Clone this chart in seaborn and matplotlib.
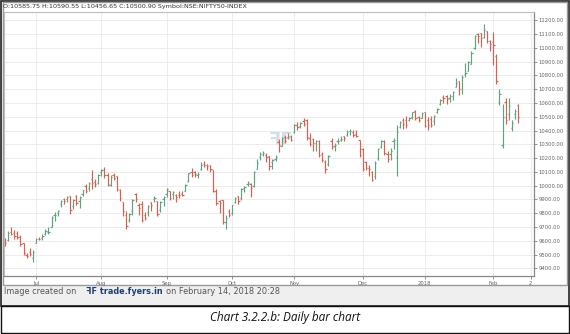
import matplotlib
matplotlib.use("Agg")
import matplotlib.pyplot as plt
import seaborn as sns
import pandas as pd
from matplotlib.patches import Rectangle

# ---------------- data (NIFTY 50 daily OHLC) ----------------
dates = [
    # Jun 2017
    "2017-06-16", "2017-06-19", "2017-06-20", "2017-06-21", "2017-06-22", "2017-06-23",
    "2017-06-27", "2017-06-28", "2017-06-29", "2017-06-30",
    # Jul
    "2017-07-03", "2017-07-04", "2017-07-05", "2017-07-06", "2017-07-07", "2017-07-10",
    "2017-07-11", "2017-07-12", "2017-07-13", "2017-07-14", "2017-07-17", "2017-07-18",
    "2017-07-19", "2017-07-20", "2017-07-21", "2017-07-24", "2017-07-25", "2017-07-26",
    "2017-07-27", "2017-07-28", "2017-07-31",
    # Aug
    "2017-08-01", "2017-08-02", "2017-08-03", "2017-08-04", "2017-08-07", "2017-08-08",
    "2017-08-09", "2017-08-10", "2017-08-11", "2017-08-14", "2017-08-16", "2017-08-17",
    "2017-08-18", "2017-08-21", "2017-08-22", "2017-08-23", "2017-08-24", "2017-08-28",
    "2017-08-29", "2017-08-30", "2017-08-31",
    # Sep
    "2017-09-01", "2017-09-04", "2017-09-05", "2017-09-06", "2017-09-07", "2017-09-08",
    "2017-09-11", "2017-09-12", "2017-09-13", "2017-09-14", "2017-09-15", "2017-09-18",
    "2017-09-19", "2017-09-20", "2017-09-21", "2017-09-22", "2017-09-25", "2017-09-26",
    "2017-09-27", "2017-09-28", "2017-09-29",
    # Oct
    "2017-10-03", "2017-10-04", "2017-10-05", "2017-10-06", "2017-10-09", "2017-10-10",
    "2017-10-11", "2017-10-12", "2017-10-13", "2017-10-16", "2017-10-17", "2017-10-18",
    "2017-10-19", "2017-10-23", "2017-10-24", "2017-10-25", "2017-10-26", "2017-10-27",
    "2017-10-30", "2017-10-31",
    # Nov
    "2017-11-01", "2017-11-02", "2017-11-03", "2017-11-06", "2017-11-07", "2017-11-08",
    "2017-11-09", "2017-11-10", "2017-11-13", "2017-11-14", "2017-11-15", "2017-11-16",
    "2017-11-17", "2017-11-20", "2017-11-21", "2017-11-22", "2017-11-23", "2017-11-24",
    "2017-11-27", "2017-11-28", "2017-11-29", "2017-11-30",
    # Dec
    "2017-12-01", "2017-12-04", "2017-12-05", "2017-12-06", "2017-12-07", "2017-12-08",
    "2017-12-11", "2017-12-12", "2017-12-13", "2017-12-14", "2017-12-15", "2017-12-18",
    "2017-12-19", "2017-12-20", "2017-12-21", "2017-12-22", "2017-12-26", "2017-12-27",
    "2017-12-28", "2017-12-29",
    # Jan 2018
    "2018-01-01", "2018-01-02", "2018-01-03", "2018-01-04", "2018-01-05", "2018-01-08",
    "2018-01-09", "2018-01-10", "2018-01-11", "2018-01-12", "2018-01-15", "2018-01-16",
    "2018-01-17", "2018-01-18", "2018-01-19", "2018-01-22", "2018-01-23", "2018-01-24",
    "2018-01-25", "2018-01-29", "2018-01-30", "2018-01-31",
    # Feb
    "2018-02-01", "2018-02-02", "2018-02-05", "2018-02-06", "2018-02-07", "2018-02-08",
    "2018-02-09", "2018-02-12", "2018-02-14",
]

opens = [
    9617, 9603, 9665, 9660, 9659, 9630, 9587, 9495, 9517, 9478,
    9587, 9617, 9619, 9648, 9662, 9698, 9784, 9799, 9865, 9901, 9900, 9924,
    9856, 9922, 9890, 9937, 10001, 9980, 10049, 10030, 10018,
    10102, 10115, 10081, 10002, 10075, 10068, 9966, 9885, 9791, 9754, 9819, 9937,
    9860, 9864, 9791, 9808, 9881, 9907, 9886, 9822, 9905,
    9937, 9958, 9941, 9933, 9935, 9941, 9964, 10035, 10099, 10101, 10078, 10124,
    10161, 10152, 10152, 10112, 9960, 9888, 9893, 9736, 9814,
    9800, 9883, 9924, 9911, 9983, 10010, 10015, 9995, 10123, 10207, 10232, 10225,
    10216, 10171, 10197, 10320, 10291, 10353, 10353, 10364,
    10390, 10440, 10431, 10469, 10477, 10344, 10339, 10308, 10322, 10231, 10173, 10155,
    10325, 10288, 10325, 10334, 10358, 10366, 10398, 10393, 10376, 10332,
    10263, 10175, 10128, 10098, 10068, 10198, 10284, 10324, 10230, 10233, 10323, 10205,
    10428, 10480, 10475, 10476, 10495, 10545, 10498, 10492,
    10531, 10477, 10482, 10469, 10534, 10592, 10645, 10652, 10637, 10650, 10718, 10761,
    10703, 10807, 10830, 10884, 11000, 11097, 11107, 11079, 11121, 11049,
    11044, 10938, 10604, 10296, 10607, 10518, 10416, 10519, 10586,
]

highs = [
    9619, 9668, 9698, 9679, 9675, 9640, 9587, 9515, 9548, 9533,
    9624, 9627, 9650, 9684, 9702, 9782, 9809, 9824, 9897, 9913, 9928, 9925,
    9904, 9932, 9924, 9970, 10011, 10026, 10114, 10052, 10086,
    10118, 10138, 10095, 10080, 10090, 10071, 9978, 9885, 9813, 9801, 9905, 9947,
    9875, 9891, 9806, 9858, 9883, 9925, 9887, 9890, 9925,
    9983, 9959, 9960, 9940, 9964, 9960, 10011, 10095, 10131, 10105, 10100, 10172,
    10179, 10157, 10153, 10115, 9978, 9893, 9897, 9787, 9832,
    9863, 9916, 9927, 9984, 10000, 10034, 10019, 10104, 10191, 10242, 10251, 10236,
    10216, 10191, 10224, 10340, 10351, 10367, 10384, 10367,
    10451, 10461, 10461, 10490, 10485, 10384, 10343, 10331, 10334, 10248, 10189, 10224,
    10343, 10309, 10343, 10358, 10364, 10403, 10409, 10406, 10404, 10332,
    10272, 10179, 10147, 10104, 10182, 10270, 10330, 10331, 10250, 10276, 10346, 10443,
    10469, 10490, 10502, 10501, 10538, 10552, 10504, 10538,
    10538, 10495, 10505, 10514, 10567, 10632, 10659, 10655, 10664, 10690, 10782, 10763,
    10803, 10887, 10906, 10976, 11092, 11111, 11110, 11172, 11122, 11058,
    11117, 10954, 10704, 10595, 10636, 10637, 10480, 10555, 10591,
]

lows = [
    9565, 9601, 9644, 9616, 9617, 9562, 9499, 9475, 9491, 9448,
    9587, 9604, 9604, 9643, 9647, 9698, 9747, 9779, 9844, 9869, 9884, 9793,
    9831, 9860, 9839, 9924, 9949, 9960, 9974, 9990, 10013,
    10070, 10058, 10001, 9999, 10043, 9958, 9886, 9782, 9685, 9740, 9791, 9883,
    9784, 9740, 9752, 9780, 9816, 9882, 9783, 9810, 9856,
    9916, 9893, 9902, 9883, 9912, 9923, 9959, 10030, 10063, 10062, 10057, 10114,
    10134, 10112, 10098, 9953, 9861, 9800, 9723, 9687, 9776,
    9788, 9871, 9870, 9896, 9951, 9996, 9921, 9988, 10120, 10185, 10218, 10175,
    10114, 10124, 10181, 10247, 10285, 10309, 10341, 10323,
    10383, 10403, 10421, 10433, 10333, 10285, 10253, 10255, 10210, 10175, 10094, 10140,
    10268, 10255, 10303, 10322, 10327, 10362, 10368, 10355, 10350, 10211,
    10108, 10111, 10074, 10033, 10050, 10185, 10272, 10226, 10172, 10188, 10267, 10074,
    10418, 10412, 10420, 10470, 10484, 10479, 10460, 10488,
    10424, 10404, 10429, 10442, 10525, 10589, 10603, 10592, 10604, 10622, 10713, 10656,
    10666, 10792, 10830, 10881, 10990, 11034, 11009, 11072, 11033, 10979,
    10878, 10736, 10586, 10276, 10446, 10479, 10398, 10485, 10457,
]

closes = [
    9588, 9657, 9653, 9633, 9630, 9575, 9511, 9491, 9504, 9521,
    9615, 9613, 9637, 9674, 9665, 9771, 9786, 9816, 9891, 9886, 9915, 9827,
    9899, 9873, 9915, 9966, 9964, 10020, 10020, 10014, 10077,
    10114, 10081, 10013, 10066, 10057, 9978, 9908, 9820, 9710, 9794, 9897, 9904,
    9837, 9754, 9765, 9852, 9857, 9912, 9796, 9884, 9917,
    9974, 9912, 9952, 9916, 9929, 9934, 10006, 10093, 10079, 10086, 10085, 10153,
    10147, 10141, 10121, 9964, 9872, 9871, 9735, 9768, 9788,
    9859, 9914, 9888, 9979, 9988, 10016, 9984, 10096, 10167, 10230, 10234, 10210,
    10146, 10184, 10207, 10295, 10343, 10323, 10363, 10335,
    10440, 10423, 10452, 10451, 10350, 10303, 10308, 10321, 10224, 10186, 10118, 10214,
    10283, 10298, 10326, 10342, 10348, 10389, 10399, 10370, 10361, 10226,
    10121, 10127, 10118, 10044, 10166, 10265, 10322, 10240, 10192, 10252, 10333, 10388,
    10463, 10444, 10440, 10493, 10531, 10490, 10477, 10530,
    10436, 10442, 10443, 10505, 10559, 10624, 10637, 10632, 10651, 10681, 10742, 10700,
    10789, 10817, 10895, 10966, 11084, 11086, 11070, 11130, 11050, 11028,
    11017, 10761, 10667, 10498, 10477, 10577, 10455, 10540, 10501,
]

y_ticks = [9400, 9500, 9600, 9700, 9800, 9900, 10000, 10100, 10200, 10300,
           10400, 10500, 10600, 10700, 10800, 10900, 11000, 11100, 11200]
header = "O:10585.75 H:10590.55 L:10456.65 C:10500.90 Symbol:NSE:NIFTY50-INDEX"
caption = "Chart 3.2.2.b: Daily bar chart"

# ---------------- build table ----------------
df = pd.DataFrame({"date": pd.to_datetime(dates), "open": opens, "high": highs,
                   "low": lows, "close": closes})
df["i"] = range(len(df))
df["dir"] = ["up" if c >= o else "down" for o, c in zip(df["open"], df["close"])]

month_pos = []
month_lab = []
prev = None
for i, d in zip(df["i"], df["date"]):
    if prev is not None and d.month != prev:
        month_pos.append(i)
        month_lab.append("2018" if d.month == 1 else d.strftime("%b"))
    prev = d.month
month_pos.append(len(df) + 3)
month_lab.append("2")

# ---------------- figure ----------------
sns.set_theme(style="white")
plt.rcParams["font.family"] = ["DejaVu Sans"]

W, H = 570, 334
fig = plt.figure(figsize=(W / 100, H / 100), dpi=100)
fig.patch.set_facecolor("white")

def px(x0, y0, w, h):
    return [x0 / W, 1 - (y0 + h) / H, w / W, h / H]

# background frames
bg = fig.add_axes([0, 0, 1, 1], zorder=-5)
bg.set_xlim(0, W); bg.set_ylim(H, 0); bg.axis("off")
bg.add_patch(Rectangle((0.5, 0.5), W - 1.5, 305.5, facecolor="#efefef",
                       edgecolor="#222222", lw=1.2))
bg.add_patch(Rectangle((2.5, 1.5), 564, 283, facecolor="white",
                       edgecolor="#9a9a9a", lw=1.0))
bg.add_patch(Rectangle((0.5, 306), W - 1.5, 27.3, facecolor="white",
                       edgecolor="#111111", lw=1.0))

# main plot axes
ax = fig.add_axes(px(4, 12, 530, 264))
up_color, down_color = "#5fa37c", "#d8604f"
colors = [up_color if d == "up" else down_color for d in df["dir"]]
tick = 0.42
lw = 0.85
ax.vlines(df["i"], df["low"], df["high"], colors=colors, lw=lw)
ax.hlines(df["open"], df["i"] - tick, df["i"], colors=colors, lw=lw)
ax.hlines(df["close"], df["i"], df["i"] + tick, colors=colors, lw=lw)

ax.set_xlim(-0.3, 170.1)
ax.set_ylim(9345, 11260)
ax.set_yticks(y_ticks)
ax.set_yticklabels([f"{v:.2f}" for v in y_ticks])
ax.yaxis.tick_right()
ax.set_xticks(month_pos)
ax.set_xticklabels(month_lab)
ax.tick_params(axis="both", labelsize=3.8, colors="#666666", length=2, width=0.5,
               pad=1.5, direction="out")
ax.tick_params(axis="y", right=True, left=False)
ax.tick_params(axis="x", bottom=True)
ax.grid(True, color="#e9e9e9", lw=0.6)
ax.set_axisbelow(True)
for s in ["top", "left"]:
    ax.spines[s].set_color("#bdbdbd"); ax.spines[s].set_linewidth(0.8)
for s in ["right", "bottom"]:
    ax.spines[s].set_color("#888888"); ax.spines[s].set_linewidth(0.9)
sns.despine(ax=ax, top=False, left=False, right=False, bottom=False)
ax.set_xlabel(""); ax.set_ylabel("")

# watermark logo (faint)
ax.text(0.523, 0.515, "ꟻF", transform=ax.transAxes, fontsize=13, fontweight="bold",
        color="#c4cfe0", ha="center", va="center", alpha=0.7, zorder=0)

# texts
fig.text(3 / W, 1 - 6.5 / H, header, fontsize=4.6, color="#333333", va="center",
         ha="left")
fig.text(4 / W, 1 - 292 / H, "Image created on", fontsize=5.9, color="#555555",
         va="center", ha="left")
fig.text(86 / W, 1 - 292 / H, "ꟻF trade.fyers.in", fontsize=5.9, color="#1f3f73",
         va="center", ha="left", fontweight="bold")
fig.text(166 / W, 1 - 292 / H, "on February 14, 2018 20:28", fontsize=5.9,
         color="#555555", va="center", ha="left")
fig.text(0.5, 1 - 318 / H, caption, fontsize=8.5, style="italic", color="#111111",
         va="center", ha="center", family=["Open Sans", "DejaVu Sans"])

fig.savefig("out.png", dpi=100)
